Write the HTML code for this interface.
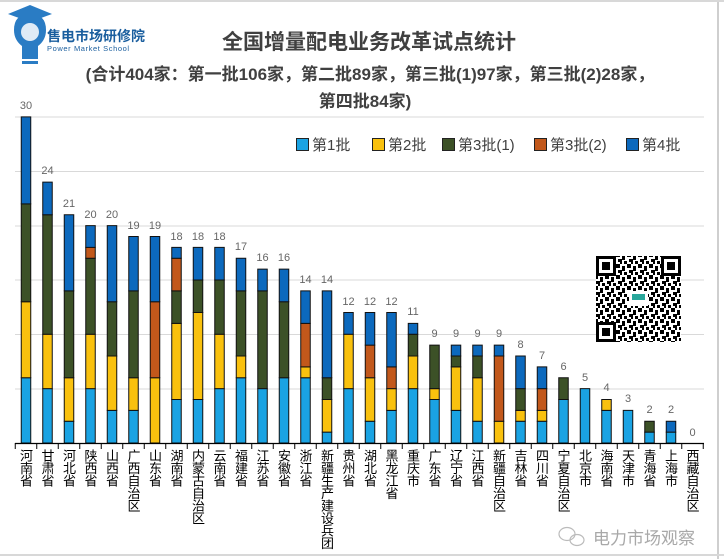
<!DOCTYPE html>
<html><head><meta charset="utf-8"><style>
html,body{margin:0;padding:0;background:#fff}
body{width:724px;height:559px;position:relative;overflow:hidden;font-family:"Liberation Sans","Noto Sans CJK SC",sans-serif}
.t{position:absolute;left:0;width:724px;text-align:center;color:#404040;font-weight:bold}
.lab{position:absolute;top:449px;width:14px;writing-mode:vertical-rl;text-orientation:upright;font-size:13px;line-height:14px;letter-spacing:-0.5px;color:#000;font-family:"Noto Sans CJK SC",sans-serif}
.leg{position:absolute;top:134px;font-size:15px;color:#404040;font-family:"Liberation Sans","Noto Sans CJK SC",sans-serif}
.leg i{display:inline-block;width:11px;height:11px;border:1px solid #222;margin-right:3px;vertical-align:-1px}
</style></head><body>
<svg width="724" height="559" style="position:absolute;left:0;top:0">
<g stroke="#d9d9d9" stroke-width="1">
<line x1="15" y1="117" x2="704" y2="117"/><line x1="15" y1="171.5" x2="704" y2="171.5"/><line x1="15" y1="226" x2="704" y2="226"/><line x1="15" y1="280" x2="704" y2="280"/><line x1="15" y1="334.5" x2="704" y2="334.5"/><line x1="15" y1="389" x2="704" y2="389"/>
</g>
<line x1="718" y1="0" x2="718" y2="559" stroke="#cfcfcf" stroke-width="2"/>
<line x1="0" y1="555" x2="724" y2="555" stroke="#d8d8d8" stroke-width="2"/>
<line x1="0" y1="1" x2="724" y2="1" stroke="#d8d8d8" stroke-width="2"/>
<g transform="translate(0,443) scale(1,-10.87)" stroke="#111" stroke-width="1">
<defs><style>rect{vector-effect:non-scaling-stroke}.a{fill:#1aa3e3}.b{fill:#f9c10e}.c{fill:#3c5127}.d{fill:#c2581b}.e{fill:#0c69bd}</style></defs>
<g transform="translate(21.25,0)"><rect class="a" width="9.5" y="0" height="6"/><rect class="b" width="9.5" y="6" height="7"/><rect class="c" width="9.5" y="13" height="9"/><rect class="e" width="9.5" y="22" height="8"/></g>
<g transform="translate(42.75,0)"><rect class="a" width="9.5" y="0" height="5"/><rect class="b" width="9.5" y="5" height="5"/><rect class="c" width="9.5" y="10" height="11"/><rect class="e" width="9.5" y="21" height="3"/></g>
<g transform="translate(64.25,0)"><rect class="a" width="9.5" y="0" height="2"/><rect class="b" width="9.5" y="2" height="4"/><rect class="c" width="9.5" y="6" height="8"/><rect class="e" width="9.5" y="14" height="7"/></g>
<g transform="translate(85.75,0)"><rect class="a" width="9.5" y="0" height="5"/><rect class="b" width="9.5" y="5" height="5"/><rect class="c" width="9.5" y="10" height="7"/><rect class="d" width="9.5" y="17" height="1"/><rect class="e" width="9.5" y="18" height="2"/></g>
<g transform="translate(107.25,0)"><rect class="a" width="9.5" y="0" height="3"/><rect class="b" width="9.5" y="3" height="5"/><rect class="c" width="9.5" y="8" height="5"/><rect class="e" width="9.5" y="13" height="7"/></g>
<g transform="translate(128.75,0)"><rect class="a" width="9.5" y="0" height="3"/><rect class="b" width="9.5" y="3" height="3"/><rect class="c" width="9.5" y="6" height="8"/><rect class="e" width="9.5" y="14" height="5"/></g>
<g transform="translate(150.25,0)"><rect class="b" width="9.5" y="0" height="6"/><rect class="d" width="9.5" y="6" height="7"/><rect class="e" width="9.5" y="13" height="6"/></g>
<g transform="translate(171.75,0)"><rect class="a" width="9.5" y="0" height="4"/><rect class="b" width="9.5" y="4" height="7"/><rect class="c" width="9.5" y="11" height="3"/><rect class="d" width="9.5" y="14" height="3"/><rect class="e" width="9.5" y="17" height="1"/></g>
<g transform="translate(193.25,0)"><rect class="a" width="9.5" y="0" height="4"/><rect class="b" width="9.5" y="4" height="8"/><rect class="c" width="9.5" y="12" height="3"/><rect class="e" width="9.5" y="15" height="3"/></g>
<g transform="translate(214.75,0)"><rect class="a" width="9.5" y="0" height="5"/><rect class="b" width="9.5" y="5" height="5"/><rect class="c" width="9.5" y="10" height="5"/><rect class="e" width="9.5" y="15" height="3"/></g>
<g transform="translate(236.25,0)"><rect class="a" width="9.5" y="0" height="6"/><rect class="b" width="9.5" y="6" height="2"/><rect class="c" width="9.5" y="8" height="6"/><rect class="e" width="9.5" y="14" height="3"/></g>
<g transform="translate(257.75,0)"><rect class="a" width="9.5" y="0" height="5"/><rect class="c" width="9.5" y="5" height="9"/><rect class="e" width="9.5" y="14" height="2"/></g>
<g transform="translate(279.25,0)"><rect class="a" width="9.5" y="0" height="6"/><rect class="c" width="9.5" y="6" height="7"/><rect class="e" width="9.5" y="13" height="3"/></g>
<g transform="translate(300.75,0)"><rect class="a" width="9.5" y="0" height="6"/><rect class="b" width="9.5" y="6" height="1"/><rect class="d" width="9.5" y="7" height="4"/><rect class="e" width="9.5" y="11" height="3"/></g>
<g transform="translate(322.25,0)"><rect class="a" width="9.5" y="0" height="1"/><rect class="b" width="9.5" y="1" height="3"/><rect class="c" width="9.5" y="4" height="2"/><rect class="e" width="9.5" y="6" height="8"/></g>
<g transform="translate(343.75,0)"><rect class="a" width="9.5" y="0" height="5"/><rect class="b" width="9.5" y="5" height="5"/><rect class="e" width="9.5" y="10" height="2"/></g>
<g transform="translate(365.25,0)"><rect class="a" width="9.5" y="0" height="2"/><rect class="b" width="9.5" y="2" height="4"/><rect class="d" width="9.5" y="6" height="3"/><rect class="e" width="9.5" y="9" height="3"/></g>
<g transform="translate(386.75,0)"><rect class="a" width="9.5" y="0" height="3"/><rect class="b" width="9.5" y="3" height="2"/><rect class="d" width="9.5" y="5" height="2"/><rect class="e" width="9.5" y="7" height="5"/></g>
<g transform="translate(408.25,0)"><rect class="a" width="9.5" y="0" height="5"/><rect class="b" width="9.5" y="5" height="3"/><rect class="c" width="9.5" y="8" height="2"/><rect class="e" width="9.5" y="10" height="1"/></g>
<g transform="translate(429.75,0)"><rect class="a" width="9.5" y="0" height="4"/><rect class="b" width="9.5" y="4" height="1"/><rect class="c" width="9.5" y="5" height="4"/></g>
<g transform="translate(451.25,0)"><rect class="a" width="9.5" y="0" height="3"/><rect class="b" width="9.5" y="3" height="4"/><rect class="c" width="9.5" y="7" height="1"/><rect class="e" width="9.5" y="8" height="1"/></g>
<g transform="translate(472.75,0)"><rect class="a" width="9.5" y="0" height="2"/><rect class="b" width="9.5" y="2" height="4"/><rect class="c" width="9.5" y="6" height="2"/><rect class="e" width="9.5" y="8" height="1"/></g>
<g transform="translate(494.25,0)"><rect class="b" width="9.5" y="0" height="2"/><rect class="d" width="9.5" y="2" height="6"/><rect class="e" width="9.5" y="8" height="1"/></g>
<g transform="translate(515.75,0)"><rect class="a" width="9.5" y="0" height="2"/><rect class="b" width="9.5" y="2" height="1"/><rect class="c" width="9.5" y="3" height="2"/><rect class="e" width="9.5" y="5" height="3"/></g>
<g transform="translate(537.25,0)"><rect class="a" width="9.5" y="0" height="2"/><rect class="b" width="9.5" y="2" height="1"/><rect class="d" width="9.5" y="3" height="2"/><rect class="e" width="9.5" y="5" height="2"/></g>
<g transform="translate(558.75,0)"><rect class="a" width="9.5" y="0" height="4"/><rect class="c" width="9.5" y="4" height="2"/></g>
<g transform="translate(580.25,0)"><rect class="a" width="9.5" y="0" height="5"/></g>
<g transform="translate(601.75,0)"><rect class="a" width="9.5" y="0" height="3"/><rect class="b" width="9.5" y="3" height="1"/></g>
<g transform="translate(623.25,0)"><rect class="a" width="9.5" y="0" height="3"/></g>
<g transform="translate(644.75,0)"><rect class="a" width="9.5" y="0" height="1"/><rect class="c" width="9.5" y="1" height="1"/></g>
<g transform="translate(666.25,0)"><rect class="a" width="9.5" y="0" height="1"/><rect class="e" width="9.5" y="1" height="1"/></g>
</g>
<line x1="15" y1="443.5" x2="704" y2="443.5" stroke="#000" stroke-width="1.2"/>
<path stroke="#000" stroke-width="1" d="M15.25 443v6M36.75 443v6M58.25 443v6M79.75 443v6M101.25 443v6M122.75 443v6M144.25 443v6M165.75 443v6M187.25 443v6M208.75 443v6M230.25 443v6M251.75 443v6M273.25 443v6M294.75 443v6M316.25 443v6M337.75 443v6M359.25 443v6M380.75 443v6M402.25 443v6M423.75 443v6M445.25 443v6M466.75 443v6M488.25 443v6M509.75 443v6M531.25 443v6M552.75 443v6M574.25 443v6M595.75 443v6M617.25 443v6M638.75 443v6M660.25 443v6M681.75 443v6M703.25 443v6"/>
<g font-family="Liberation Sans,sans-serif" font-size="11" fill="#666" text-anchor="middle">
<text x="26" y="109">30</text><text x="47.5" y="174">24</text><text x="69" y="207">21</text><text x="90.5" y="218">20</text><text x="112" y="218">20</text><text x="133.5" y="229">19</text><text x="155" y="229">19</text><text x="176.5" y="240">18</text><text x="198" y="240">18</text><text x="219.5" y="240">18</text><text x="241" y="250">17</text><text x="262.5" y="261">16</text><text x="284" y="261">16</text><text x="305.5" y="283">14</text><text x="327" y="283">14</text><text x="348.5" y="305">12</text><text x="370" y="305">12</text><text x="391.5" y="305">12</text><text x="413" y="315">11</text><text x="434.5" y="337">9</text><text x="456" y="337">9</text><text x="477.5" y="337">9</text><text x="499" y="337">9</text><text x="520.5" y="348">8</text><text x="542" y="359">7</text><text x="563.5" y="370">6</text><text x="585" y="381">5</text><text x="606.5" y="391">4</text><text x="628" y="402">3</text><text x="649.5" y="413">2</text><text x="671" y="413">2</text><text x="692.5" y="436">0</text>
</g>
<defs><pattern id="qr" width="11" height="11" patternUnits="userSpaceOnUse"><rect width="11" height="11" fill="#fff"/><rect x="0" y="0" width="4" height="4" fill="#000"/><rect x="6" y="2" width="3" height="5" fill="#000"/><rect x="2" y="6" width="4" height="3" fill="#000"/><rect x="8" y="8" width="3" height="3" fill="#000"/><rect x="4" y="9" width="2" height="2" fill="#000"/></pattern></defs>
<rect x="596" y="256" width="85" height="86" fill="url(#qr)"/>
<g fill="#000"><rect x="596" y="256" width="20" height="20"/><rect x="661" y="256" width="20" height="20"/><rect x="596" y="322" width="20" height="20"/></g>
<g fill="#fff"><rect x="599" y="259" width="14" height="14"/><rect x="664" y="259" width="14" height="14"/><rect x="599" y="325" width="14" height="14"/></g>
<g fill="#000"><rect x="602" y="262" width="8" height="8"/><rect x="667" y="262" width="8" height="8"/><rect x="602" y="328" width="8" height="8"/></g>
<rect x="629" y="291" width="19" height="15" fill="#fff"/><rect x="632" y="294" width="13" height="6" fill="#2aa89c"/>
<path d="M14 30 q0-16 16-16 q16 0 16 16 q0 10-8 16 v10 h-16 v-10 q-8-6-8-16z" fill="#2a7cc4"/>
<circle cx="30" cy="32" r="9" fill="#fff" opacity="0.85"/>
<path d="M8 14 L30 5 L52 14 L30 22z" fill="#2a7cc4"/>
<rect x="22" y="56" width="16" height="3" fill="#2a7cc4"/><rect x="22" y="61" width="16" height="3" fill="#2a7cc4"/>
<text x="47" y="41" font-size="14" font-weight="bold" fill="#1a5e9e" font-family="Noto Sans CJK SC,sans-serif">售电市场研修院</text>
<text x="47" y="51" font-size="7.5" fill="#1a5e9e" font-family="Liberation Sans,sans-serif" letter-spacing="0.6">Power Market School</text>
<g fill="none" stroke="#bbb" stroke-width="1.2"><ellipse cx="567" cy="534" rx="8" ry="6.5"/><ellipse cx="577" cy="540" rx="7" ry="5.5"/></g>
<text x="593" y="544" font-size="17" fill="#a8a8a8" font-family="Noto Sans CJK SC,sans-serif">电力市场观察</text>
</svg>
<div class="t" style="top:26px;font-size:21px;font-family:'Noto Sans CJK SC',sans-serif;left:7px">全国增量配电业务改革试点统计</div>
<div class="t" style="top:60px;font-size:17px;font-family:'Liberation Sans','Noto Sans CJK SC',sans-serif;left:8px;letter-spacing:0px">(合计404家：第一批106家，第二批89家，第三批(1)97家，第三批(2)28家，</div>
<div class="t" style="top:87px;font-size:17px;font-family:'Liberation Sans','Noto Sans CJK SC',sans-serif;left:3px;letter-spacing:0px">第四批84家)</div>
<div class="leg" style="left:296px"><i style="background:#1aa3e3"></i>第1批</div>
<div class="leg" style="left:372px"><i style="background:#f9c10e"></i>第2批</div>
<div class="leg" style="left:442px"><i style="background:#3c5127"></i>第3批(1)</div>
<div class="leg" style="left:534px"><i style="background:#c2581b"></i>第3批(2)</div>
<div class="leg" style="left:626px"><i style="background:#0c69bd"></i>第4批</div>
<div class="lab" style="left:19px">河南省</div>
<div class="lab" style="left:40.5px">甘肃省</div>
<div class="lab" style="left:62px">河北省</div>
<div class="lab" style="left:83.5px">陕西省</div>
<div class="lab" style="left:105px">山西省</div>
<div class="lab" style="left:126.5px">广西自治区</div>
<div class="lab" style="left:148px">山东省</div>
<div class="lab" style="left:169.5px">湖南省</div>
<div class="lab" style="left:191px">内蒙古自治区</div>
<div class="lab" style="left:212.5px">云南省</div>
<div class="lab" style="left:234px">福建省</div>
<div class="lab" style="left:255.5px">江苏省</div>
<div class="lab" style="left:277px">安徽省</div>
<div class="lab" style="left:298.5px">浙江省</div>
<div class="lab" style="left:320px">新疆生产建设兵团</div>
<div class="lab" style="left:341.5px">贵州省</div>
<div class="lab" style="left:363px">湖北省</div>
<div class="lab" style="left:384.5px">黑龙江省</div>
<div class="lab" style="left:406px">重庆市</div>
<div class="lab" style="left:427.5px">广东省</div>
<div class="lab" style="left:449px">辽宁省</div>
<div class="lab" style="left:470.5px">江西省</div>
<div class="lab" style="left:492px">新疆自治区</div>
<div class="lab" style="left:513.5px">吉林省</div>
<div class="lab" style="left:535px">四川省</div>
<div class="lab" style="left:556.5px">宁夏自治区</div>
<div class="lab" style="left:578px">北京市</div>
<div class="lab" style="left:599.5px">海南省</div>
<div class="lab" style="left:621px">天津市</div>
<div class="lab" style="left:642.5px">青海省</div>
<div class="lab" style="left:664px">上海市</div>
<div class="lab" style="left:685.5px">西藏自治区</div>
</body></html>
